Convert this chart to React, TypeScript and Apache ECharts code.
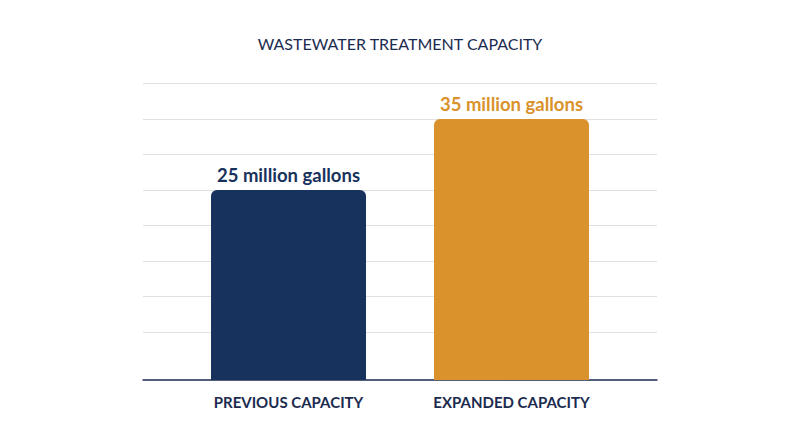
import React, { useEffect, useRef } from 'react';
import * as echarts from 'echarts';

const categories = ['PREVIOUS CAPACITY', 'EXPANDED CAPACITY'];
const capacity = [25, 35];
const valueLabels = ['25 million gallons', '35 million gallons'];
const barColors = ['#17325c', '#d9922c'];

const NAVY = '#1b2b4f';
const FONT = 'Lato, "Open Sans", sans-serif';

export default function App() {
    const chartRef = useRef<HTMLDivElement>(null);

    useEffect(() => {
        if (!chartRef.current) return;
        document.body.style.margin = '0';
        const chart = echarts.init(chartRef.current, undefined, { renderer: 'svg' });

        const option: echarts.EChartsOption = {
            animation: false,
            backgroundColor: '#ffffff',
            title: {
                text: 'WASTEWATER TREATMENT CAPACITY',
                left: 'center',
                top: 30,
                textStyle: {
                    fontFamily: FONT,
                    fontSize: 16,
                    fontWeight: 'normal',
                    color: NAVY,
                },
            },
            grid: [
                // background gridlines
                { left: 143, right: 143, top: 83.5, bottom: 115 },
                // bars
                { left: 177, right: 177, top: 83.5, bottom: 67 },
                // baseline
                { left: 143, right: 143, top: 83.5, bottom: 67 },
            ],
            xAxis: [
                { gridIndex: 0, type: 'value', show: false },
                {
                    gridIndex: 1,
                    type: 'category',
                    data: categories,
                    axisLine: { show: false },
                    axisTick: { show: false },
                    axisLabel: {
                        margin: 14,
                        fontFamily: FONT,
                        fontSize: 15,
                        fontWeight: 'bold',
                        color: NAVY,
                        lineHeight: 15,
                    },
                },
                {
                    gridIndex: 2,
                    type: 'value',
                    axisLine: { show: true, onZero: false, lineStyle: { color: '#1b2b4f', width: 1.5 } },
                    axisTick: { show: false },
                    axisLabel: { show: false },
                    splitLine: { show: false },
                },
            ],
            yAxis: [
                {
                    gridIndex: 0,
                    type: 'value',
                    min: 5,
                    max: 40,
                    interval: 5,
                    axisLine: { show: false },
                    axisTick: { show: false },
                    axisLabel: { show: false },
                    splitLine: { lineStyle: { color: '#e0e0e0', width: 1 } },
                },
                {
                    gridIndex: 1,
                    type: 'value',
                    min: -1.76,
                    max: 40,
                    startValue: -1.76,
                    show: false,
                    splitLine: { show: false },
                } as any,
                {
                    gridIndex: 2,
                    type: 'value',
                    show: false,
                    splitLine: { show: false },
                },
            ],
            series: [
                {
                    type: 'bar',
                    xAxisIndex: 1,
                    yAxisIndex: 1,
                    barWidth: 155,
                    data: capacity.map((v, i) => ({
                        value: v,
                        itemStyle: { color: barColors[i], borderRadius: [6, 6, 0, 0] },
                        label: { color: barColors[i] },
                    })),
                    label: {
                        show: true,
                        position: 'top',
                        distance: 6,
                        fontFamily: FONT,
                        fontSize: 18.5,
                        fontWeight: 'bold',
                        formatter: (p: any) => valueLabels[p.dataIndex],
                    },
                },
            ],
        };

        chart.setOption(option);

        return () => {
            chart.dispose();
        };
    }, []);

    return <div ref={chartRef} style={{ width: 800, height: 447 }} />;
}
